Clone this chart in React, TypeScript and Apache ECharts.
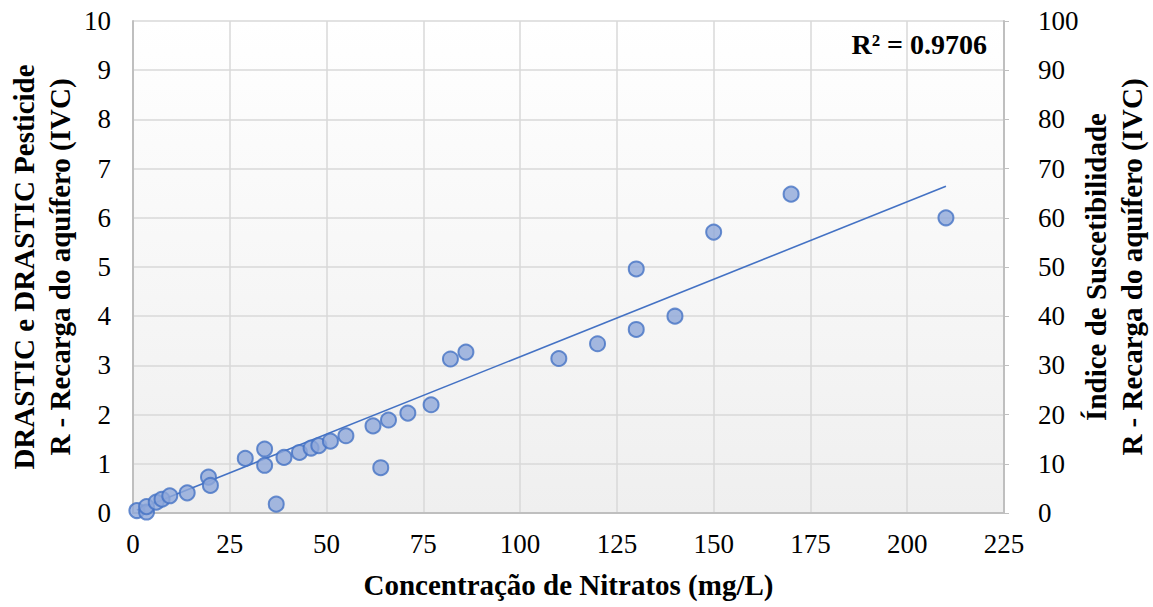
import React, { useEffect, useRef } from "react";
import * as echarts from "echarts";

const nitrate = [1, 3.5, 3.5, 6, 7.5, 9.5, 14, 19.5, 20, 29, 34, 34, 37, 39, 43, 46, 48, 51, 55, 62, 64, 66, 71, 77, 82, 86, 110, 120, 130, 130, 140, 150, 170, 210];
const recharge = [0.05, 0.02, 0.13, 0.22, 0.28, 0.35, 0.41, 0.73, 0.56, 1.11, 1.3, 0.97, 0.18, 1.13, 1.23, 1.32, 1.37, 1.46, 1.57, 1.77, 0.92, 1.89, 2.03, 2.2, 3.13, 3.27, 3.14, 3.44, 4.96, 3.73, 4.0, 5.71, 6.48, 6.0];
const trendX = [1, 210];
const trendY = [0.06, 6.64];
const xTicks = [0, 25, 50, 75, 100, 125, 150, 175, 200, 225];
const leftTitle = "DRASTIC e DRASTIC Pesticide\nR - Recarga do aquífero (IVC)";
const rightTitle = "Índice de Suscetibilidade\nR - Recarga do aquífero (IVC)";
const xTitle = "Concentração de Nitratos (mg/L)";
const r2Label = "R² = 0.9706";

const FONT = "Liberation Serif";

export default function App() {
  const ref = useRef<HTMLDivElement>(null);
  useEffect(() => {
    if (!ref.current) return;
    const chart = echarts.init(ref.current, null, { renderer: "svg" });
    const gridL = 133, gridR = 149, gridT = 21, gridB = 94;
    const plotMidY = gridT + (607 - gridT - gridB) / 2;
    const tickLabel = { fontFamily: FONT, fontSize: 27, fontWeight: "normal", color: "#000" };
    chart.setOption({
      animation: false,
      textStyle: { fontFamily: FONT },
      grid: {
        left: gridL, right: gridR, top: gridT, bottom: gridB,
        show: true, borderWidth: 0,
        backgroundColor: new echarts.graphic.LinearGradient(0, 0, 0, 1, [
          { offset: 0, color: "#ffffff" },
          { offset: 1, color: "#efefef" },
        ]),
      },
      xAxis: {
        type: "value", min: xTicks[0], max: xTicks[xTicks.length - 1], interval: 25,
        axisLine: { show: true, lineStyle: { color: "#bfbfbf", width: 2 } },
        axisTick: { show: false },
        splitLine: { show: true, lineStyle: { color: "#d9d9d9", width: 1.5 } },
        axisLabel: {
          margin: 17,
          formatter: (v: number) => `{t|${v}}`,
          rich: { t: { ...tickLabel } },
        },
      },
      yAxis: [
        {
          type: "value", min: 0, max: 10, interval: 1, position: "left",
          axisLine: { show: true, lineStyle: { color: "#bfbfbf", width: 2 } },
          axisTick: { show: false },
          splitLine: { show: true, lineStyle: { color: "#d9d9d9", width: 1.5 } },
          axisLabel: {
            margin: 22,
            formatter: (v: number) => `{t|${v}}`,
            rich: { t: { ...tickLabel } },
          },
        },
        {
          type: "value", min: 0, max: 100, interval: 10, position: "right",
          axisLine: { show: true, lineStyle: { color: "#bfbfbf", width: 2 } },
          axisTick: { show: true, length: 5, inside: false, lineStyle: { color: "#bfbfbf" } },
          splitLine: { show: false },
          axisLabel: {
            margin: 34,
            formatter: (v: number) => `{t|${v}}`,
            rich: { t: { ...tickLabel } },
          },
        },
      ],
      series: [
        {
          type: "line",
          data: trendX.map((x, i) => [x, trendY[i]]),
          symbol: "none",
          lineStyle: { color: "#4472c4", width: 1.6 },
          z: 2,
        },
        {
          type: "scatter",
          data: nitrate.map((x, i) => [x, recharge[i]]),
          symbolSize: 15,
          itemStyle: { color: "#8fa8d9", borderColor: "#4472c4", borderWidth: 2 },
          z: 3,
        },
        {
          type: "line", yAxisIndex: 1, data: [], symbol: "none",
        },
      ],
      graphic: [
        {
          type: "text", x: 987, y: 44,
          style: { text: r2Label, font: `bold 28px ${FONT}`, fill: "#000", textAlign: "right", textVerticalAlign: "middle" },
        },
        {
          type: "text", x: 42, y: plotMidY, rotation: Math.PI / 2,
          style: { text: leftTitle, font: `bold 29px ${FONT}`, fill: "#000", textAlign: "center", textVerticalAlign: "middle", lineHeight: 36 },
        },
        {
          type: "text", x: 1114, y: plotMidY, rotation: Math.PI / 2,
          style: { text: rightTitle, font: `bold 29px ${FONT}`, fill: "#000", textAlign: "center", textVerticalAlign: "middle", lineHeight: 36 },
        },
        {
          type: "text", x: gridL + (1153 - gridL - gridR) / 2, y: 585,
          style: { text: xTitle, font: `bold 29px ${FONT}`, fill: "#000", textAlign: "center", textVerticalAlign: "middle" },
        },
      ],
    });
    return () => chart.dispose();
  }, []);
  return <div ref={ref} style={{ width: 1153, height: 607, position: "absolute", left: 0, top: 0 }} />;
}
